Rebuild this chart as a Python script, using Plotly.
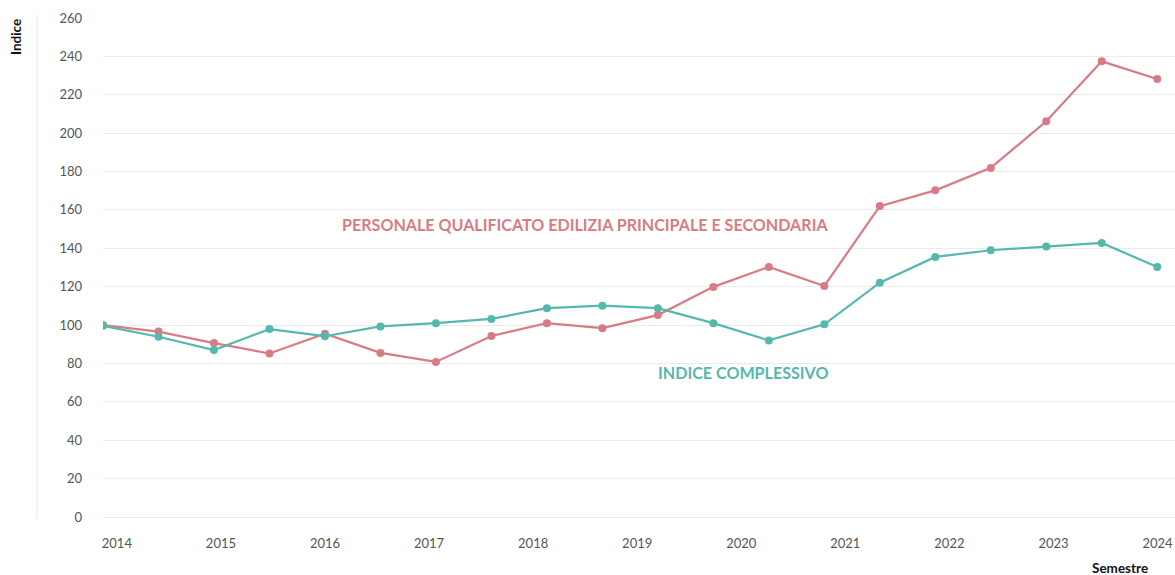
import plotly.graph_objects as go

semesters = list(range(20))
personale = [100, 96.6, 90.6, 85.2, 95.5, 85.5, 80.8, 94.3, 101, 98.4, 105.2, 119.9, 130.3, 120.4, 162, 170.2, 181.9, 206.2, 237.4, 228.2]
complessivo = [99.6, 93.9, 87, 97.9, 94.2, 99.3, 101, 103.2, 108.8, 110.1, 108.8, 101, 92, 100.4, 122.1, 135.5, 139, 140.9, 142.8, 130.3]
year_labels = ["2014", "2015", "2016", "2017", "2018", "2019", "2020", "2021", "2022", "2023", "2024"]
year_ticks = [0.25 + i * 1.8755 for i in range(len(year_labels))]
y_ticks = list(range(0, 261, 20))

RED = "#d97b85"
TEAL = "#55b8ae"

fig = go.Figure()
fig.add_trace(go.Scatter(x=semesters, y=personale, mode="lines+markers",
                         line=dict(color=RED, width=2.2), marker=dict(color=RED, size=8),
                         name="Personale qualificato", showlegend=False))
fig.add_trace(go.Scatter(x=semesters, y=complessivo, mode="lines+markers",
                         line=dict(color=TEAL, width=2.2), marker=dict(color=TEAL, size=8),
                         name="Indice complessivo", showlegend=False))

W, H = 1175, 575
L, R, T, B = 103, 0, 18, 58
pw, ph = W - L - R, H - T - B


def px(x):
    return (x - L) / pw


def py(y):
    return (H - B - y) / ph


fig.update_layout(
    width=W, height=H,
    margin=dict(l=L, r=R, t=T, b=B),
    plot_bgcolor="white", paper_bgcolor="white",
    font=dict(family="Lato", color="#555555", size=13),
    xaxis=dict(range=[0, 19.32], tickvals=year_ticks, ticktext=year_labels,
               showgrid=False, zeroline=False, showline=False, ticks="",
               ticklabelstandoff=17, tickfont=dict(size=13, color="#555555")),
    yaxis=dict(range=[0, 260], tickvals=y_ticks, showgrid=True, gridcolor="#ebebeb",
               gridwidth=1, zeroline=True, zerolinecolor="#ebebeb", zerolinewidth=1,
               showline=False, ticks="",
               ticklabelstandoff=20, tickfont=dict(size=13, color="#555555")),
)

fig.add_annotation(text="<b>PERSONALE QUALIFICATO EDILIZIA PRINCIPALE E SECONDARIA</b>",
                   x=px(830), y=py(225), xref="paper", yref="paper", xanchor="right", yanchor="middle",
                   showarrow=False, font=dict(color=RED, size=16.1, family="Lato"))
fig.add_annotation(text="<b>INDICE COMPLESSIVO</b>",
                   x=px(830), y=py(372), xref="paper", yref="paper", xanchor="right", yanchor="middle",
                   showarrow=False, font=dict(color=TEAL, size=16.1, family="Lato"))
fig.add_annotation(text="<b>Indice</b>", textangle=-90,
                   x=px(16), y=py(37), xref="paper", yref="paper", xanchor="center", yanchor="middle",
                   showarrow=False, font=dict(color="#111111", size=13.5, family="Lato"))
fig.add_annotation(text="<b>Semestre</b>",
                   x=px(1150), y=py(568), xref="paper", yref="paper", xanchor="right", yanchor="middle",
                   showarrow=False, font=dict(color="#111111", size=13.5, family="Lato"))
fig.add_shape(type="line", xref="paper", yref="paper", x0=px(37), x1=px(37), y0=py(15), y1=py(519),
              line=dict(color="#e6e6e6", width=1))

fig.write_html("out.html", config={"displayModeBar": False},
               post_script="document.body.style.margin='0';document.body.style.overflow='hidden';")
